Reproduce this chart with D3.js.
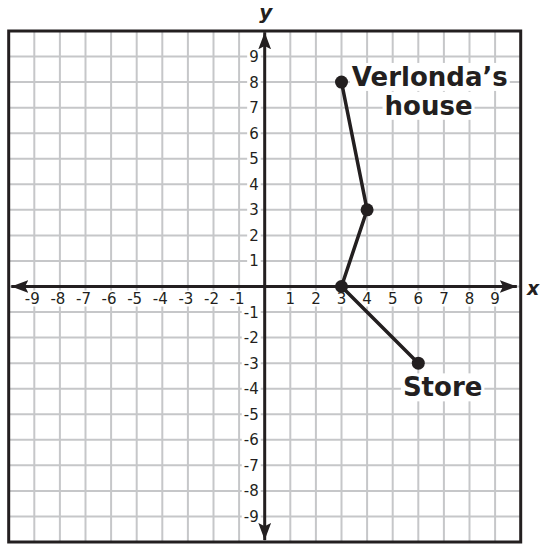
<!DOCTYPE html>
<html>
<head>
<meta charset="utf-8">
<script src="https://cdn.jsdelivr.net/npm/d3@7"></script>
<style>
  body { margin: 0; background: #fff; }
  text { font-family: "DejaVu Sans", Verdana, sans-serif; fill: #231f20; }
</style>
</head>
<body>
<div class="chart"></div>
<script>
var svgWidth = 540;
var svgHeight = 544;

// data
var xTicks = [-9, -8, -7, -6, -5, -4, -3, -2, -1, 1, 2, 3, 4, 5, 6, 7, 8, 9];
var yTicks = [9, 8, 7, 6, 5, 4, 3, 2, 1, -1, -2, -3, -4, -5, -6, -7, -8, -9];
var pathX = [3, 4, 3, 6];
var pathY = [8, 3, 0, -3];
var placeNames = ["Verlonda’s", "house", "Store"];
var placeX = [6.45, 6.4, 6.95];
var placeY = [7.85, 6.72, -4.3];

var ink = "#231f20";

var svg = d3.select(".chart")
  .append("svg")
  .attr("width", svgWidth)
  .attr("height", svgHeight);

var x = d3.scaleLinear().domain([-10, 10]).range([8.7, 520.7]);
var y = d3.scaleLinear().domain([-10, 10]).range([542, 31]);

// grid
var grid = svg.append("g");
grid.selectAll(".vg")
  .data(xTicks.concat([0]))
  .enter().append("line")
  .attr("x1", d => x(d)).attr("x2", d => x(d))
  .attr("y1", y(10)).attr("y2", y(-10))
  .attr("stroke", "#c6c7c9").attr("stroke-width", 2);
grid.selectAll(".hg")
  .data(yTicks.concat([0]))
  .enter().append("line")
  .attr("y1", d => y(d)).attr("y2", d => y(d))
  .attr("x1", x(-10)).attr("x2", x(10))
  .attr("stroke", "#c6c7c9").attr("stroke-width", 2);

// white box behind a text
function backed(g) {
  g.each(function () {
    var t = d3.select(this);
    var b = this.getBBox();
    d3.select(this.parentNode).insert("rect", function () { return t.node(); })
      .attr("x", b.x - 2).attr("y", b.y + 1)
      .attr("width", b.width + 4).attr("height", b.height - 2)
      .attr("fill", "#fff");
  });
}

var xl = svg.append("g");
xl.selectAll("text")
  .data(xTicks)
  .enter().append("text")
  .attr("x", d => x(d) + (d < 0 ? -2 : 0))
  .attr("y", y(0) + 17)
  .attr("text-anchor", "middle")
  .attr("font-size", 15)
  .text(d => d)
  .call(backed);

var yl = svg.append("g");
yl.selectAll("text")
  .data(yTicks)
  .enter().append("text")
  .attr("x", x(0) - 6)
  .attr("y", d => y(d) + 5.5)
  .attr("text-anchor", "end")
  .attr("font-size", 15)
  .text(d => d)
  .call(backed);

// axes with arrows
var defs = svg.append("defs");
defs.append("marker")
  .attr("id", "arr")
  .attr("viewBox", "0 0 16 12")
  .attr("refX", 16).attr("refY", 6)
  .attr("markerWidth", 17).attr("markerHeight", 13)
  .attr("markerUnits", "userSpaceOnUse")
  .attr("orient", "auto-start-reverse")
  .append("path")
  .attr("d", "M0,0 L16,6 L0,12 L3,6 Z")
  .attr("fill", ink);

svg.append("line")
  .attr("x1", x(-9.9)).attr("x2", x(9.85))
  .attr("y1", y(0)).attr("y2", y(0))
  .attr("stroke", ink).attr("stroke-width", 3)
  .attr("marker-start", "url(#arr)").attr("marker-end", "url(#arr)");
svg.append("line")
  .attr("x1", x(0)).attr("x2", x(0))
  .attr("y1", y(-9.92)).attr("y2", y(9.95))
  .attr("stroke", ink).attr("stroke-width", 3)
  .attr("marker-start", "url(#arr)").attr("marker-end", "url(#arr)");

// frame
svg.append("rect")
  .attr("x", x(-10)).attr("y", y(10))
  .attr("width", x(10) - x(-10)).attr("height", y(-10) - y(10))
  .attr("fill", "none").attr("stroke", ink).attr("stroke-width", 3);

// axis titles
svg.append("text")
  .attr("x", x(0) + 1).attr("y", 19)
  .attr("text-anchor", "middle")
  .attr("font-size", 20).attr("font-weight", "bold").attr("font-style", "italic")
  .text("y");
svg.append("text")
  .attr("x", 527).attr("y", y(0) + 8)
  .attr("font-size", 19).attr("font-weight", "bold").attr("font-style", "italic")
  .text("x");

// route
var pts = pathX.map((d, i) => [d, pathY[i]]);
svg.append("path")
  .datum(pts)
  .attr("d", d3.line().x(d => x(d[0])).y(d => y(d[1])))
  .attr("fill", "none").attr("stroke", ink).attr("stroke-width", 3.5)
  .attr("stroke-linejoin", "round");
svg.selectAll(".pt")
  .data(pts)
  .enter().append("circle")
  .attr("cx", d => x(d[0])).attr("cy", d => y(d[1]))
  .attr("r", 6.5).attr("fill", ink);

// place names
var pl = svg.append("g");
pl.selectAll("text")
  .data(placeNames)
  .enter().append("text")
  .attr("x", (d, i) => x(placeX[i]))
  .attr("y", (d, i) => y(placeY[i]))
  .attr("text-anchor", "middle")
  .attr("font-size", 26).attr("font-weight", "bold")
  .text(d => d)
  .call(backed);
</script>
</body>
</html>
